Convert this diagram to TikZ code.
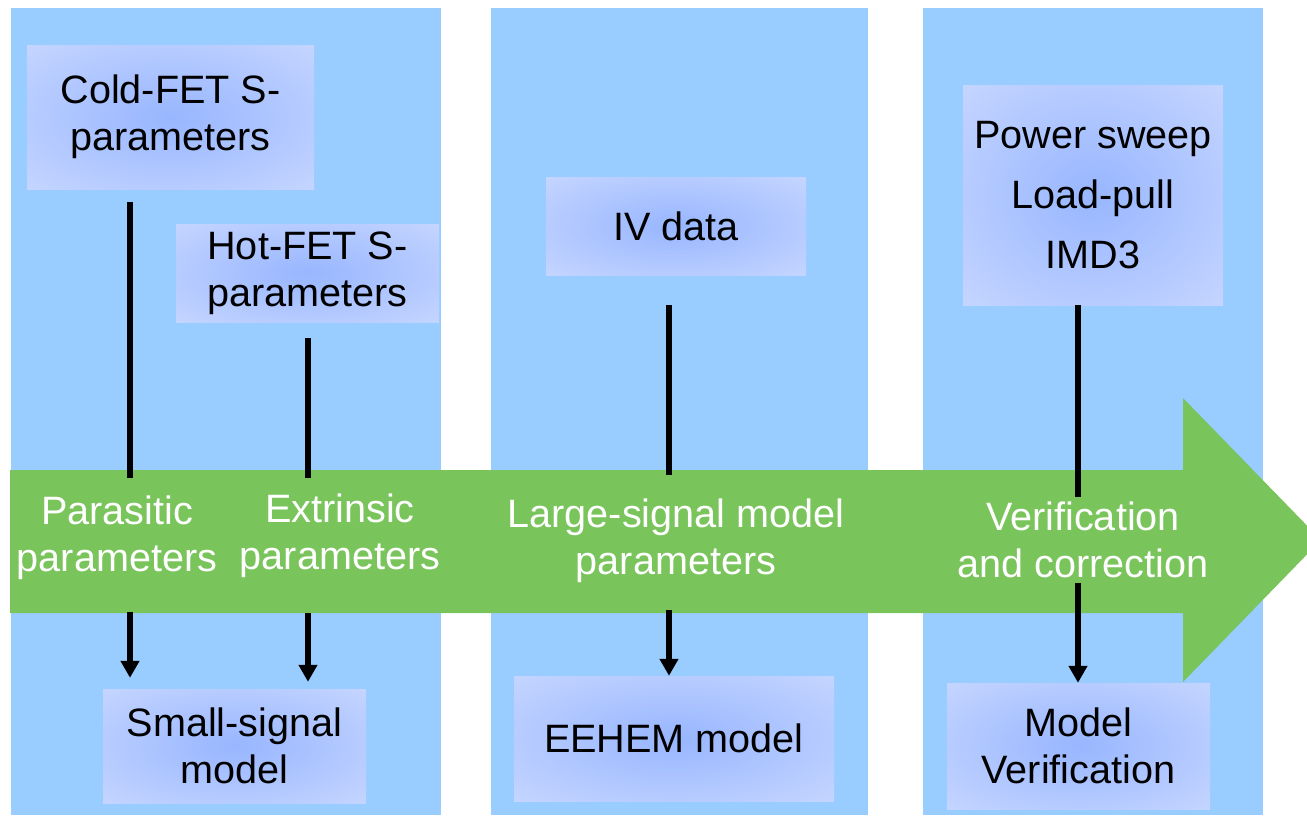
\documentclass[tikz,border=0pt]{standalone}
\usepackage{fontspec}
\setmainfont{Liberation Sans}
\usetikzlibrary{arrows.meta}
\definecolor{colblue}{RGB}{153,204,255}
\definecolor{bandgreen}{RGB}{122,196,92}
\definecolor{glowin}{RGB}{152,182,255}
\definecolor{glowout}{RGB}{230,236,255}
\pgfdeclareradialshading{glow}{\pgfpoint{0bp}{0bp}}{color(0bp)=(glowin); color(62bp)=(glowout); color(72bp)=(glowout)}
\newcommand{\bigtext}{\fontsize{39.6}{47}\selectfont}

\tikzset{
	stage/.style = { fill=colblue },
	datum/.style = { shading=glow, align=center, inner sep=0pt, font=\bigtext },
	tag/.style = { text=white, align=center, inner sep=0pt, font=\bigtext },
	feed/.style = { line width=6pt },
	push/.style = { line width=6pt, -{Triangle[width=18pt,length=17pt]} }
}

\begin{document}
\begin{tikzpicture}[x=1pt, y=-1pt]
	\useasboundingbox (0,0) rectangle (1307,815);
	% three stages
	\fill [ stage ] (11,8) rectangle (441,815);
	\fill [ stage ] (491,8) rectangle (868,815);
	\fill [ stage ] (923,8) rectangle (1263,815);
	% flow arrow
	\fill [ bandgreen ] (10,470) -- (1183,470) -- (1183,398) -- (1321,540)
	  -- (1183,682) -- (1183,613) -- (10,613) -- cycle;

	\node [ datum, minimum width=287pt, minimum height=144pt ] (1) at (170.5,117) {Cold-FET S-\\parameters};
	\node [ datum, minimum width=263pt, minimum height=98pt ] (2) at (307.5,273) {Hot-FET S-\\parameters};
	\node [ datum, minimum width=260pt, minimum height=98pt ] (3) at (676,226) {IV data};
	\node [ datum, minimum width=260pt, minimum height=220pt,
	  font=\fontsize{39.6}{60}\selectfont ] (4) at (1093,195) {Power sweep\\Load-pull\\IMD3};
	\node [ datum, minimum width=263pt, minimum height=114pt ] (5) at (234.5,746) {Small-signal\\model};
	\node [ datum, minimum width=320pt, minimum height=125pt ] (6) at (674,738.5) {EEHEM model};
	\node [ datum, minimum width=263pt, minimum height=126pt ] (7) at (1078.5,746) {Model\\Verification};

	\node [ tag ] (8) at (117,538) {Parasitic\\parameters};
	\node [ tag ] (9) at (340,536) {Extrinsic\\parameters};
	\node [ tag ] (10) at (676,541) {Large-signal model\\parameters};
	\node [ tag ] (11) at (1083,540) {Verification\\and correction};

	\coordinate (in1) at (130,478);
	\coordinate (in2) at (308,478);
	\coordinate (in3) at (669,475);
	\coordinate (in4) at (1078,497);
	\coordinate (out1) at (130,612);
	\coordinate (out2) at (308,613);
	\coordinate (out3) at (669,610);
	\coordinate (out4) at (1078,583);

        \draw [ feed, shorten <=13pt ]
          (1.south -| in1) to (in1);
        \draw [ feed, shorten <=16pt ]
          (2.south -| in2) to (in2);
        \draw [ feed, shorten <=30pt ]
          (3.south -| in3) to (in3);
        \draw [ feed ]
          (4.south -| in4) to (in4);

        \draw [ push, shorten >=11pt ]
          (out1) to (5.north -| out1);
        \draw [ push, shorten >=7pt ]
          (out2) to (5.north -| out2);
        \draw [ push ]
          (out3) to (6.north -| out3);
        \draw [ push ]
          (out4) to (7.north -| out4);
\end{tikzpicture}
\end{document}
